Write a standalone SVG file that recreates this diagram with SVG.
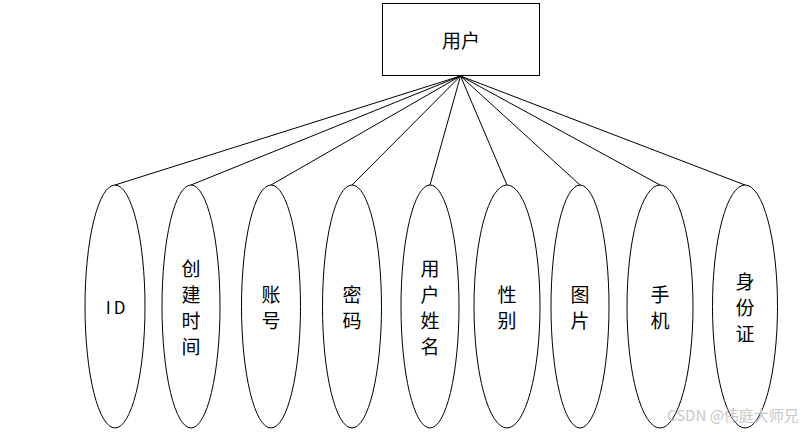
<svg xmlns="http://www.w3.org/2000/svg" width="811" height="434" viewBox="0 0 811 434">
<style>
.n{fill:#fff;stroke:#000;stroke-width:1}
.c line{stroke:#000;stroke-width:1}
.t{font-family:"Noto Sans CJK SC","Liberation Sans",sans-serif;font-size:19px;fill:#000;text-anchor:middle;dominant-baseline:central}
.w{font-family:"Noto Sans CJK SC","Liberation Sans",sans-serif;font-size:15px;fill:#c8c8c8}
</style>
<rect width="811" height="434" fill="#fff"/>
<g class="c" id="connectors">
<line x1="460.5" y1="76" x2="115" y2="185"/>
<line x1="460.5" y1="76" x2="191" y2="185"/>
<line x1="460.5" y1="76" x2="271" y2="185"/>
<line x1="460.5" y1="76" x2="352" y2="185"/>
<line x1="460.5" y1="76" x2="430" y2="185"/>
<line x1="460.5" y1="76" x2="507" y2="185"/>
<line x1="460.5" y1="76" x2="580" y2="185"/>
<line x1="460.5" y1="76" x2="660" y2="185"/>
<line x1="460.5" y1="76" x2="745" y2="185"/>
</g>
<g id="user">
<rect class="n" x="382.5" y="3.5" width="157" height="72"/>
<text class="t" x="461" y="39">用户</text>
</g>
<g id="id">
<ellipse class="n" cx="115" cy="306.5" rx="30" ry="121.5"/>
<text class="t" x="117" y="306" style="letter-spacing:3px;font-size:17px">ID</text>
</g>
<g id="createtime">
<ellipse class="n" cx="191" cy="306.5" rx="29" ry="121.5"/>
<text class="t"><tspan x="191" y="267">创</tspan><tspan x="191" y="293">建</tspan><tspan x="191" y="319">时</tspan><tspan x="191" y="345">间</tspan></text>
</g>
<g id="account">
<ellipse class="n" cx="271" cy="306.5" rx="29.5" ry="121.5"/>
<text class="t"><tspan x="271" y="293">账</tspan><tspan x="271" y="319">号</tspan></text>
</g>
<g id="password">
<ellipse class="n" cx="352" cy="306.5" rx="29.5" ry="121.5"/>
<text class="t"><tspan x="352" y="293">密</tspan><tspan x="352" y="319">码</tspan></text>
</g>
<g id="username">
<ellipse class="n" cx="430" cy="306.5" rx="29" ry="121.5"/>
<text class="t"><tspan x="430" y="267">用</tspan><tspan x="430" y="293">户</tspan><tspan x="430" y="319">姓</tspan><tspan x="430" y="345">名</tspan></text>
</g>
<g id="gender">
<ellipse class="n" cx="507" cy="306.5" rx="33" ry="121.5"/>
<text class="t"><tspan x="507" y="293">性</tspan><tspan x="507" y="319">别</tspan></text>
</g>
<g id="picture">
<ellipse class="n" cx="580" cy="306.5" rx="29" ry="121.5"/>
<text class="t"><tspan x="580" y="293">图</tspan><tspan x="580" y="319">片</tspan></text>
</g>
<g id="phone">
<ellipse class="n" cx="660" cy="306.5" rx="33" ry="121.5"/>
<text class="t"><tspan x="660" y="293">手</tspan><tspan x="660" y="319">机</tspan></text>
</g>
<g id="idcard">
<ellipse class="n" cx="745" cy="306.5" rx="32.5" ry="121.5"/>
<text class="t"><tspan x="745" y="280">身</tspan><tspan x="745" y="306">份</tspan><tspan x="745" y="332">证</tspan></text>
</g>
<text class="w" x="667" y="421">CSDN @伟庭大师兄</text>
</svg>
